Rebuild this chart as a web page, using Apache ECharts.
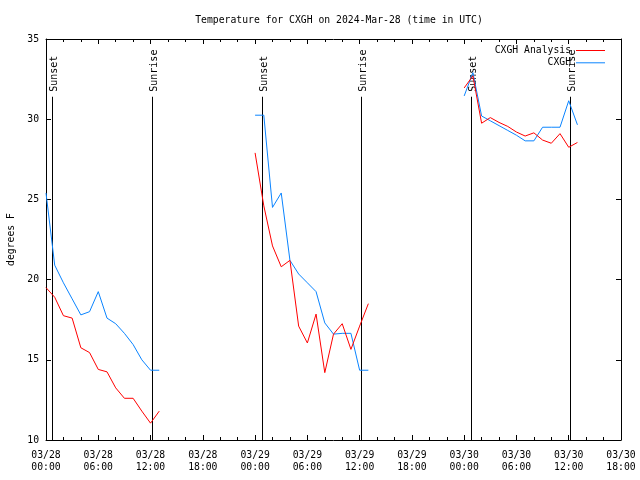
<!DOCTYPE html>
<html><head><meta charset="utf-8">
<script src="https://cdn.jsdelivr.net/npm/echarts@6/dist/echarts.min.js"></script>
<style>html,body{margin:0;padding:0;background:#fff}#c{width:640px;height:480px}</style>
</head><body><div id="c"></div>
<script>
const chartTitle = 'Temperature for CXGH on 2024-Mar-28 (time in UTC)';
const yAxisName = 'degrees F';
const seriesNames = ['CXGH Analysis', 'CXGH'];
// hours since 03/28 00:00 UTC
const hours = [0,1,2,3,4,5,6,7,8,9,10,11,12,13,
               24,25,26,27,28,29,30,31,32,33,34,35,36,37,
               48,49,50,51,52,53,54,55,56,57,58,59,60,61];
const analysis = [19.5,18.9,17.75,17.6,15.75,15.45,14.4,14.25,13.25,12.6,12.6,11.8,11.05,11.8,
                  27.9,24.6,22.1,20.8,21.2,17.1,16.05,17.85,14.2,16.6,17.25,15.65,17.1,18.5,
                  31.95,32.7,29.75,30.1,29.8,29.55,29.2,28.95,29.15,28.7,28.5,29.1,28.25,28.55];
const observed = [25.4,20.9,19.8,18.8,17.8,18.0,19.25,17.6,17.25,16.65,15.95,15.0,14.35,14.35,
                  30.25,30.25,24.5,25.4,21.2,20.35,19.8,19.25,17.3,16.6,16.65,16.65,14.35,14.35,
                  31.45,32.9,30.2,29.9,29.6,29.3,29.0,28.65,28.65,29.5,29.5,29.5,31.15,29.65];
const sunHours = [0.72, 12.15, 24.77, 36.2, 48.78, 60.1];
const sunLabels = ['Sunset','Sunrise','Sunset','Sunrise','Sunset','Sunrise'];
const xTickLabels = ['03/28\n00:00','03/28\n06:00','03/28\n12:00','03/28\n18:00',
                     '03/29\n00:00','03/29\n06:00','03/29\n12:00','03/29\n18:00',
                     '03/30\n00:00','03/30\n06:00','03/30\n12:00','03/30\n18:00'];

const FONT = '"DejaVu Sans Mono", "Liberation Mono", monospace';
const FS = 9.75;
const Y_MIN = 10, Y_MAX = 35, MARK_TOP = 31.4;
const RED = '#ff0000', BLUE = '#0a84ff';

function withBreaks(xs, ys) {
  const out = [];
  for (let i = 0; i < xs.length; i++) {
    if (i > 0 && xs[i] - xs[i-1] > 1) out.push([(xs[i] + xs[i-1]) / 2, '-']);
    out.push([xs[i], ys[i]]);
  }
  return out;
}

const chart = echarts.init(document.getElementById('c'), null, {renderer: 'canvas'});
const xCommon = {
  type: 'value', min: 0, max: 66, interval: 6,
  axisLine: {show: true, onZero: false, lineStyle: {color: '#000', width: 1}},
  axisTick: {show: true, inside: true, length: 5, lineStyle: {color: '#000'}},
  minorTick: {show: true, splitNumber: 3, length: 3, lineStyle: {color: '#000'}},
  splitLine: {show: false}, minorSplitLine: {show: false}
};
const yCommon = {
  type: 'value', min: Y_MIN, max: Y_MAX, interval: 5,
  axisLine: {show: true, onZero: false, lineStyle: {color: '#000', width: 1}},
  axisTick: {show: true, inside: true, length: 5, lineStyle: {color: '#000'}},
  splitLine: {show: false}
};
chart.setOption({
  animation: false,
  backgroundColor: '#fff',
  title: {
    text: chartTitle, left: 334, top: 10, textAlign: 'center',
    textStyle: {fontFamily: FONT, fontSize: FS, fontWeight: 'normal', color: '#000'}
  },
  legend: {
    orient: 'vertical', right: 30, top: 40, align: 'right',
    icon: 'rect', itemWidth: 29, itemHeight: 1, itemGap: 1.3,
    data: [
      {name: seriesNames[0], itemStyle: {color: RED}},
      {name: seriesNames[1], itemStyle: {color: BLUE}}
    ],
    textStyle: {fontFamily: FONT, fontSize: FS, color: '#000', lineHeight: 11}
  },
  grid: {left: 46, right: 19, top: 39, bottom: 40, containLabel: false, outerBoundsMode: 'none'},
  xAxis: [
    Object.assign({}, xCommon, {
      position: 'bottom',
      axisLabel: {
        show: true, margin: 9, color: '#000', fontFamily: FONT, fontSize: FS, lineHeight: 12.5,
        showMinLabel: true, showMaxLabel: true,
        formatter: v => xTickLabels[Math.round(v / 6)]
      }
    }),
    Object.assign({}, xCommon, {position: 'top', axisLabel: {show: false}})
  ],
  yAxis: [
    Object.assign({}, yCommon, {
      position: 'left',
      name: yAxisName, nameLocation: 'middle', nameGap: 30,
      nameTextStyle: {fontFamily: FONT, fontSize: FS, color: '#000'},
      axisLabel: {show: true, margin: 7, color: '#000', fontFamily: FONT, fontSize: FS}
    }),
    Object.assign({}, yCommon, {position: 'right', axisLabel: {show: false}})
  ],
  series: [
    {
      type: 'custom', name: 'sun', xAxisIndex: 0, yAxisIndex: 0,
      data: sunHours.map(h => [h, Y_MIN]),
      encode: {x: 0, y: 1},
      silent: true, z: 1,
      renderItem: (params, api) => {
        const h = api.value(0);
        const b = api.coord([h, Y_MIN]);
        const t = api.coord([h, MARK_TOP]);
        const x = Math.round(b[0]) + 0.5;
        return {
          type: 'group',
          children: [
            {type: 'line', shape: {x1: x, y1: b[1], x2: x, y2: t[1]},
             style: {stroke: '#000', lineWidth: 1}},
            {type: 'text', x: x + 1.5, y: t[1] - 5, rotation: Math.PI / 2,
             style: {text: sunLabels[params.dataIndex], align: 'left', verticalAlign: 'middle',
                     font: '10px ' + FONT, fill: '#000'}}
          ]
        };
      }
    },
    {
      type: 'line', name: seriesNames[0], data: withBreaks(hours, analysis),
      symbol: 'none', showSymbol: false, connectNulls: false, z: 3,
      lineStyle: {color: RED, width: 1}, itemStyle: {color: RED}
    },
    {
      type: 'line', name: seriesNames[1], data: withBreaks(hours, observed),
      symbol: 'none', showSymbol: false, connectNulls: false, z: 2,
      lineStyle: {color: BLUE, width: 1}, itemStyle: {color: BLUE}
    }
  ]
});
</script></body></html>
